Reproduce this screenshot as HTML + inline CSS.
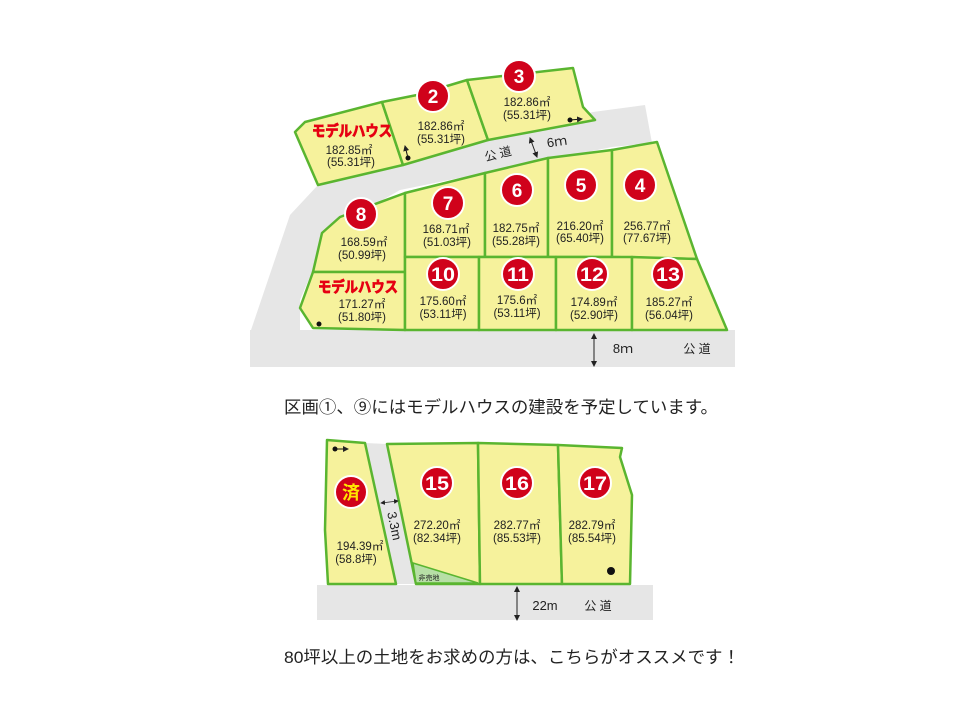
<!DOCTYPE html>
<html><head><meta charset="utf-8"><style>
html,body{margin:0;padding:0;background:#fff;}
svg{display:block;}
text{font-family:"Liberation Sans","Noto Sans CJK JP",sans-serif;}
.lot{fill:#f6f29c;stroke:#5ab530;stroke-width:2.5;stroke-linejoin:round;}
.a{font-size:11.5px;fill:#222;text-anchor:middle;}
.n{font-size:19px;font-weight:bold;fill:#fff;text-anchor:middle;}
.c{fill:#d0021b;stroke:#fff;stroke-width:2;}
.mh{font-size:15px;font-weight:bold;fill:#e60012;text-anchor:middle;stroke:#e60012;stroke-width:0.8;}
.g{fill:#e6e6e6;}
</style></head><body>
<svg width="960" height="720" viewBox="0 0 960 720" xmlns="http://www.w3.org/2000/svg">
<defs>
<marker id="ar" markerWidth="6" markerHeight="6" refX="5" refY="3" orient="auto-start-reverse"><path d="M0,0 L6,3 L0,6 z" fill="#222"/></marker>
</defs>
<!-- roads -->
<polygon class="g" points="290,215 318,185 593,112 645,105 652,143 612,147 400,190 330,230 300,300 300,330 250,333"/>
<rect class="g" x="250" y="330" width="485" height="37"/>
<!-- upper lots -->
<polygon class="lot" points="295,132 305,122 382,102 403,165 318,185"/>
<polygon class="lot" points="382,102 417,95 467,80 488,140 403,165"/>
<polygon class="lot" points="467,80 573,68 583,107 595,120 488,140"/>
<!-- row 2 -->
<polygon class="lot" points="340,217 405,193 405,272 313,272 322,233"/>
<polygon class="lot" points="405,193 485,173 485,257 405,257"/>
<polygon class="lot" points="485,173 548,158 548,257 485,257"/>
<polygon class="lot" points="548,158 612,150 612,257 548,257"/>
<polygon class="lot" points="612,150 657,142 697,259 612,257"/>
<!-- row 3 -->
<polygon class="lot" points="313,272 405,272 405,330 313,328 300,308"/>
<polygon class="lot" points="405,257 479,257 479,330 405,330"/>
<polygon class="lot" points="479,257 556,257 556,330 479,330"/>
<polygon class="lot" points="556,257 632,257 632,330 556,330"/>
<polygon class="lot" points="632,257 697,259 727,330 632,330"/>
<!-- circles -->
<g>
<circle class="c" cx="433" cy="96" r="16"/><text class="n" x="433" y="103">2</text>
<circle class="c" cx="519" cy="76" r="16"/><text class="n" x="519" y="83">3</text>
<circle class="c" cx="361" cy="214" r="16"/><text class="n" x="361" y="221">8</text>
<circle class="c" cx="448" cy="203" r="16"/><text class="n" x="448" y="210">7</text>
<circle class="c" cx="517" cy="190" r="16"/><text class="n" x="517" y="197">6</text>
<circle class="c" cx="581" cy="185" r="16"/><text class="n" x="581" y="192">5</text>
<circle class="c" cx="640" cy="185" r="16"/><text class="n" x="640" y="192">4</text>
<circle class="c" cx="443" cy="274" r="16"/><text class="n" x="443" y="281" textLength="24" lengthAdjust="spacingAndGlyphs">10</text>
<circle class="c" cx="518" cy="274" r="16"/><text class="n" x="518" y="281" textLength="22" lengthAdjust="spacingAndGlyphs">11</text>
<circle class="c" cx="592" cy="274" r="16"/><text class="n" x="592" y="281" textLength="24" lengthAdjust="spacingAndGlyphs">12</text>
<circle class="c" cx="668" cy="274" r="16"/><text class="n" x="668" y="281" textLength="24" lengthAdjust="spacingAndGlyphs">13</text>
</g>
<!-- labels -->
<text class="mh" x="352" y="136" textLength="80" lengthAdjust="spacingAndGlyphs">モデルハウス</text>
<text class="a" x="349" y="154">182.85㎡</text><text class="a" x="351" y="166">(55.31坪)</text>
<text class="a" x="441" y="130">182.86㎡</text><text class="a" x="441" y="143">(55.31坪)</text>
<text class="a" x="527" y="106">182.86㎡</text><text class="a" x="527" y="119">(55.31坪)</text>
<text class="a" x="364" y="246">168.59㎡</text><text class="a" x="362" y="259">(50.99坪)</text>
<text class="a" x="446" y="233">168.71㎡</text><text class="a" x="447" y="246">(51.03坪)</text>
<text class="a" x="516" y="232">182.75㎡</text><text class="a" x="516" y="245">(55.28坪)</text>
<text class="a" x="580" y="230">216.20㎡</text><text class="a" x="580" y="242">(65.40坪)</text>
<text class="a" x="647" y="230">256.77㎡</text><text class="a" x="647" y="242">(77.67坪)</text>
<text class="mh" x="358" y="292" textLength="80" lengthAdjust="spacingAndGlyphs">モデルハウス</text>
<text class="a" x="362" y="308">171.27㎡</text><text class="a" x="362" y="321">(51.80坪)</text>
<text class="a" x="443" y="305">175.60㎡</text><text class="a" x="443" y="318">(53.11坪)</text>
<text class="a" x="517" y="304">175.6㎡</text><text class="a" x="517" y="317">(53.11坪)</text>
<text class="a" x="594" y="306">174.89㎡</text><text class="a" x="594" y="319">(52.90坪)</text>
<text class="a" x="669" y="306">185.27㎡</text><text class="a" x="669" y="319">(56.04坪)</text>
<!-- entrance marks -->
<circle cx="408" cy="158" r="2.5" fill="#111"/><line x1="408" y1="158" x2="405" y2="146" stroke="#111" marker-end="url(#ar)"/>
<circle cx="570" cy="120" r="2.5" fill="#111"/><line x1="570" y1="120" x2="582" y2="119" stroke="#111" marker-end="url(#ar)"/>
<circle cx="319" cy="324" r="2.5" fill="#111"/>
<!-- road labels -->
<text x="498" y="158" font-size="12" fill="#222" text-anchor="middle" transform="rotate(-14 498 154)">公 道</text>
<line x1="530" y1="138" x2="537" y2="157" stroke="#222" marker-start="url(#ar)" marker-end="url(#ar)"/>
<text x="557" y="146" font-size="13" fill="#222" text-anchor="middle" transform="rotate(-8 557 142)">6ｍ</text>
<line x1="594" y1="334" x2="594" y2="366" stroke="#222" marker-start="url(#ar)" marker-end="url(#ar)"/>
<text x="623" y="353" font-size="13" fill="#222" text-anchor="middle">8ｍ</text>
<text x="697" y="353" font-size="12" fill="#222" text-anchor="middle">公 道</text>
<text x="284" y="413" font-size="17" fill="#222" textLength="434" lengthAdjust="spacingAndGlyphs">区画①、⑨にはモデルハウスの建設を予定しています。</text>
<!-- lower section -->
<rect class="g" x="317" y="585" width="336" height="35"/>
<polygon class="g" points="365,443 387,444 416,584 396,584"/>
<polygon class="lot" points="327,440 365,443 396,584 328,584 325,530"/>
<polygon class="lot" points="387,444 478,443 480,584 416,584"/>
<polygon points="413,563 478,583 416,583" fill="#b7dfa6" stroke="#5ab530" stroke-width="1.5"/>
<polygon class="lot" points="478,443 558,445 562,584 480,584"/>
<polygon class="lot" points="558,445 622,448 620,457 632,495 630,584 562,584"/>
<circle class="c" cx="351" cy="492" r="16"/><text x="351" y="499" font-size="18" font-weight="bold" fill="#ffe600" text-anchor="middle">済</text>
<circle class="c" cx="437" cy="483" r="16"/><text class="n" x="437" y="490" textLength="24" lengthAdjust="spacingAndGlyphs">15</text>
<circle class="c" cx="517" cy="483" r="16"/><text class="n" x="517" y="490" textLength="24" lengthAdjust="spacingAndGlyphs">16</text>
<circle class="c" cx="595" cy="483" r="16"/><text class="n" x="595" y="490" textLength="24" lengthAdjust="spacingAndGlyphs">17</text>
<text class="a" x="437" y="529">272.20㎡</text><text class="a" x="437" y="542">(82.34坪)</text>
<text class="a" x="517" y="529">282.77㎡</text><text class="a" x="517" y="542">(85.53坪)</text>
<text class="a" x="592" y="529">282.79㎡</text><text class="a" x="592" y="542">(85.54坪)</text>
<text class="a" x="360" y="550">194.39㎡</text><text class="a" x="356" y="563">(58.8坪)</text>
<text x="429" y="580" font-size="7" fill="#222" text-anchor="middle">非売地</text>
<circle cx="611" cy="571" r="4" fill="#111"/>
<circle cx="335" cy="449" r="2.5" fill="#111"/><line x1="335" y1="449" x2="348" y2="449" stroke="#111" marker-end="url(#ar)"/>
<line x1="381" y1="503" x2="398" y2="501" stroke="#222" stroke-width="0.8" marker-start="url(#ar)" marker-end="url(#ar)"/>
<text x="394" y="530" font-size="13" fill="#222" text-anchor="middle" transform="rotate(78 394 526)">3.3m</text>
<line x1="517" y1="587" x2="517" y2="620" stroke="#222" marker-start="url(#ar)" marker-end="url(#ar)"/>
<text x="545" y="610" font-size="13" fill="#222" text-anchor="middle">22m</text>
<text x="598" y="610" font-size="12" fill="#222" text-anchor="middle">公 道</text>
<text x="284" y="663" font-size="17" fill="#222" textLength="456" lengthAdjust="spacingAndGlyphs">80坪以上の土地をお求めの方は、こちらがオススメです！</text>
</svg>
</body></html>
